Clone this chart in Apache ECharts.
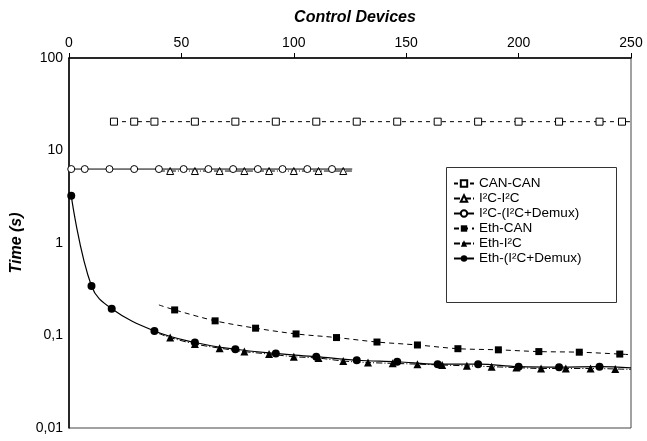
<!DOCTYPE html>
<html>
<head>
<meta charset="utf-8">
<script src="https://cdn.jsdelivr.net/npm/echarts@6/dist/echarts.min.js"></script>
<style>
  html, body { margin: 0; padding: 0; background: #fff; }
  #chart { width: 647px; height: 441px; }
</style>
</head>
<body>
<div id="chart"></div>
<script>
// x = number of control devices, y = time (s)
const canCanX = [20, 29, 38, 56, 74, 92, 110, 128, 146, 164, 182, 200, 218, 236, 246];
const canCanY = [20.5, 20.5, 20.5, 20.5, 20.5, 20.5, 20.5, 20.5, 20.5, 20.5, 20.5, 20.5, 20.5, 20.5, 20.5];

const i2cI2cX = [45, 56, 67, 78, 89, 100, 111, 122];
const i2cI2cY = [6.0, 6.0, 6.0, 6.0, 6.0, 6.0, 6.0, 6.0];

const i2cDemuxX = [1, 7, 18, 29, 40, 51, 62, 73, 84, 95, 106, 117];
const i2cDemuxY = [6.3, 6.3, 6.3, 6.3, 6.3, 6.3, 6.3, 6.3, 6.3, 6.3, 6.3, 6.3];

const ethCanX = [47, 65, 83, 101, 119, 137, 155, 173, 191, 209, 227, 245];
const ethCanY = [0.189, 0.144, 0.120, 0.104, 0.095, 0.085, 0.079, 0.072, 0.070, 0.067, 0.066, 0.063];

const ethI2cX = [45, 56, 67, 78, 89, 100, 111, 122, 133, 144, 155, 166, 177, 188, 199, 210, 221, 232, 243];
const ethI2cY = [0.095, 0.081, 0.073, 0.067, 0.063, 0.059, 0.057, 0.053, 0.051, 0.050, 0.049, 0.048, 0.047, 0.046, 0.045, 0.044, 0.044, 0.044, 0.0435];

const ethDemuxX = [1, 10, 19, 38, 56, 74, 92, 110, 128, 146, 164, 182, 200, 218, 236];
const ethDemuxY = [3.25, 0.343, 0.195, 0.112, 0.084, 0.071, 0.064, 0.059, 0.054, 0.052, 0.049, 0.049, 0.046, 0.0455, 0.046];

// trend line ends beyond the markers
const canCanEnd = [250, 20.5];
const i2cI2cStart = [40, 6.0];
const i2cI2cEnd = [126, 6.0];
const i2cDemuxEnd = [126, 6.3];
const ethCanStart = [40, 0.214];
const ethCanEnd = [250, 0.062];
const ethI2cStart = [40, 0.105];
const ethI2cEnd = [250, 0.043];
const ethDemuxEnd = [250, 0.0446];

const xTicks = [0, 50, 100, 150, 200, 250];
const yTickLabels = { 100: "100", 10: "10", 1: "1", 0.1: "0,1", 0.01: "0,01" };

const FONT = "'Liberation Sans', Arial, Helvetica, sans-serif";

const pts = (xs, ys) => xs.map((x, i) => [x, ys[i]]);
const bare = p => ({ value: p, symbol: "none" });

const chart = echarts.init(document.getElementById("chart"));

const openStyle = { color: "#fff", borderColor: "#000", borderWidth: 1 };
const fillStyle = { color: "#000", borderColor: "#000", borderWidth: 0 };

const option = {
  animation: false,
  textStyle: { fontFamily: FONT },
  title: {
    text: "Control Devices",
    left: 350,
    textAlign: "center",
    top: 5,
    textStyle: { fontFamily: FONT, fontSize: 16, fontWeight: "bold", fontStyle: "italic", color: "#000" }
  },
  grid: {
    left: 69, right: 16, top: 58, bottom: 13,
    show: true, borderColor: "#444", borderWidth: 1, backgroundColor: "transparent"
  },
  graphic: [
    {
      type: "rect",
      shape: { x: 446.5, y: 167.5, width: 170, height: 135 },
      style: { fill: "#fff", stroke: "#333", lineWidth: 1 },
      z: 5
    }
  ],
  legend: {
    orient: "vertical",
    left: 453,
    top: 176,
    padding: 0,
    itemGap: 0,
    itemWidth: 20,
    itemHeight: 8,
    z: 10,
    textStyle: { fontFamily: FONT, fontSize: 13.5, lineHeight: 15, color: "#000" },
    data: ["CAN-CAN", "I²C-I²C", "I²C-(I²C+Demux)", "Eth-CAN", "Eth-I²C", "Eth-(I²C+Demux)"]
  },
  xAxis: {
    type: "value",
    position: "top",
    min: 0, max: 250, interval: 50,
    axisLine: { lineStyle: { color: "#000", width: 1.5 } },
    axisTick: { show: true, inside: false, length: 5, lineStyle: { color: "#000" } },
    axisLabel: {
      fontFamily: FONT, fontSize: 14, color: "#000", margin: 8,
      formatter: v => (xTicks.includes(v) ? String(v) : "")
    },
    splitLine: { show: false }
  },
  yAxis: {
    type: "log",
    logBase: 10,
    min: 0.01, max: 100,
    name: "Time (s)",
    nameLocation: "middle",
    nameGap: 44,
    nameMoveOverlap: false,
    nameTextStyle: { fontFamily: FONT, fontSize: 16, fontWeight: "bold", fontStyle: "italic", color: "#000" },
    axisLine: { lineStyle: { color: "#000", width: 1.5 } },
    axisTick: { show: false },
    axisLabel: {
      fontFamily: FONT, fontSize: 14, color: "#000", margin: 6,
      formatter: v => yTickLabels[v] || yTickLabels[+v.toPrecision(3)] || ""
    },
    splitLine: { show: false }
  },
  series: [
    {
      name: "CAN-CAN",
      type: "line",
      data: [...pts(canCanX, canCanY), bare(canCanEnd)],
      symbol: "rect", symbolSize: 7,
      itemStyle: openStyle,
      lineStyle: { color: "#000", width: 1, type: [4, 4] },
      z: 3
    },
    {
      name: "I²C-I²C",
      type: "line",
      data: [bare(i2cI2cStart), ...pts(i2cI2cX, i2cI2cY), bare(i2cI2cEnd)],
      symbol: "triangle", symbolSize: 7,
      itemStyle: openStyle,
      lineStyle: { color: "#000", width: 1, type: [6, 2, 1, 2] },
      z: 3
    },
    {
      name: "I²C-(I²C+Demux)",
      type: "line",
      data: [...pts(i2cDemuxX, i2cDemuxY), bare(i2cDemuxEnd)],
      symbol: "circle", symbolSize: 7,
      itemStyle: openStyle,
      lineStyle: { color: "#000", width: 1 },
      z: 4
    },
    {
      name: "Eth-CAN",
      type: "line",
      smooth: 0.3,
      data: [bare(ethCanStart), ...pts(ethCanX, ethCanY), bare(ethCanEnd)],
      symbol: "rect", symbolSize: 7,
      itemStyle: fillStyle,
      lineStyle: { color: "#000", width: 1, type: [5, 4] },
      z: 3
    },
    {
      name: "Eth-I²C",
      type: "line",
      smooth: 0.3,
      data: [bare(ethI2cStart), ...pts(ethI2cX, ethI2cY), bare(ethI2cEnd)],
      symbol: "triangle", symbolSize: 8,
      itemStyle: fillStyle,
      lineStyle: { color: "#000", width: 1, type: [6, 2, 1, 2] },
      z: 3
    },
    {
      name: "Eth-(I²C+Demux)",
      type: "line",
      smooth: 0.4,
      data: [...pts(ethDemuxX, ethDemuxY), bare(ethDemuxEnd)],
      symbol: "circle", symbolSize: 8,
      itemStyle: fillStyle,
      lineStyle: { color: "#000", width: 1.2 },
      z: 4
    }
  ]
};

chart.setOption(option);
</script>
</body>
</html>
